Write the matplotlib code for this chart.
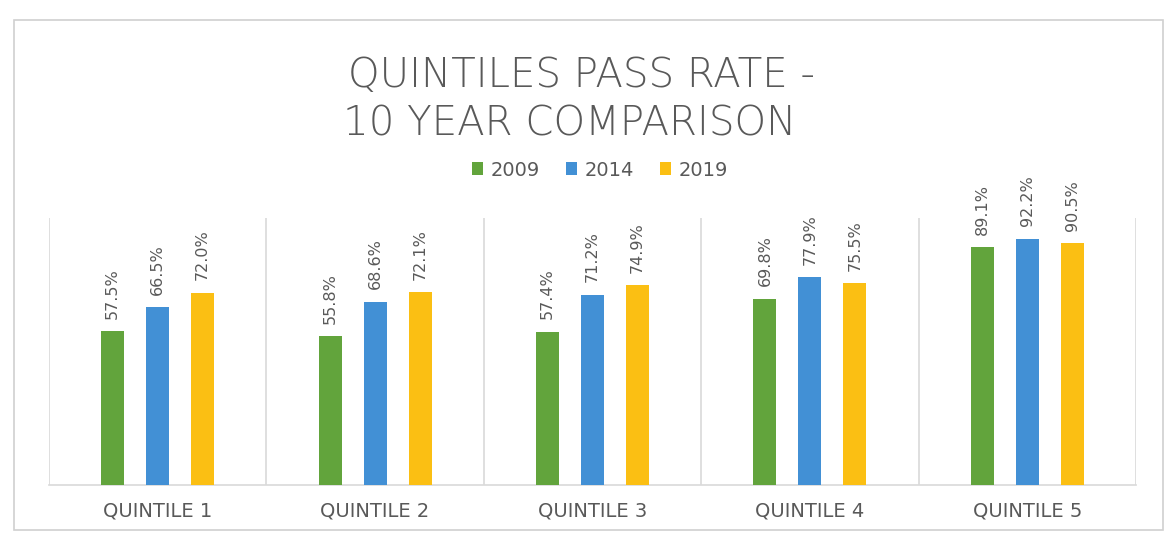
import matplotlib.pyplot as plt
import matplotlib.patches as mpatches
import numpy as np

categories = ['QUINTILE 1', 'QUINTILE 2', 'QUINTILE 3', 'QUINTILE 4', 'QUINTILE 5']
years = ['2009', '2014', '2019']
rate_2009 = [57.5, 55.8, 57.4, 69.8, 89.1]
rate_2014 = [66.5, 68.6, 71.2, 77.9, 92.2]
rate_2019 = [72.0, 72.1, 74.9, 75.5, 90.5]

colors = ['#62A43C', '#4290D5', '#FBBF13']
text_grey = '#595959'
grid_grey = '#D9D9D9'

fig = plt.figure(figsize=(11.71, 5.36), dpi=100)
fig.patch.set_facecolor('white')

# outer chart border
fig.patches.append(mpatches.Rectangle((14 / 1171, 6 / 536), 1149 / 1171, 510 / 536,
                                      transform=fig.transFigure, fill=False,
                                      edgecolor='#D0D0D0', linewidth=1.2))

ax = fig.add_axes([49 / 1171, 51 / 536, 1087 / 1171, 267 / 536])

x = np.arange(len(categories))
width = 0.106
offset = 0.207
series = [rate_2009, rate_2014, rate_2019]

for i, (vals, c, yr) in enumerate(zip(series, colors, years)):
    pos = x + (i - 1) * offset
    bars = ax.bar(pos, vals, width, color=c, label=yr, zorder=3)
    for b, v in zip(bars, vals):
        ax.annotate(f'{v:.1f}%', (b.get_x() + b.get_width() / 2, v),
                    xytext=(0, 9), textcoords='offset points',
                    rotation=90, ha='center', va='bottom',
                    fontsize=11.5, color=text_grey,
                    family=['Liberation Sans Narrow', 'DejaVu Sans'])

ax.set_xlim(-0.5, len(categories) - 0.5)
ax.set_ylim(0, 100)

# category separators
for b in np.arange(-0.5, len(categories), 1.0):
    ax.axvline(b, color=grid_grey, linewidth=1.2, zorder=1)

for s in ['top', 'left', 'right']:
    ax.spines[s].set_visible(False)
ax.spines['bottom'].set_color(grid_grey)
ax.spines['bottom'].set_linewidth(1.2)

ax.set_yticks([])
ax.set_xticks(x)
ax.set_xticklabels(categories, fontsize=14, color=text_grey)
ax.tick_params(axis='x', length=0, pad=12)

fig.text(581 / 1171, 1 - 75 / 536, 'QUINTILES PASS RATE -', ha='center', va='center',
         fontsize=29, color=text_grey, fontweight='light')
fig.text(570 / 1171, 1 - 124 / 536, '10 YEAR COMPARISON', ha='center', va='center',
         fontsize=29, color=text_grey, fontweight='light')

fig.legend(loc='center', bbox_to_anchor=(600 / 1171, 1 - 170 / 536), ncol=3,
           frameon=False, fontsize=14, labelcolor=text_grey,
           handlelength=0.6, handleheight=0.6, handletextpad=0.4, columnspacing=1.3)

plt.savefig('out.png', dpi=100)
